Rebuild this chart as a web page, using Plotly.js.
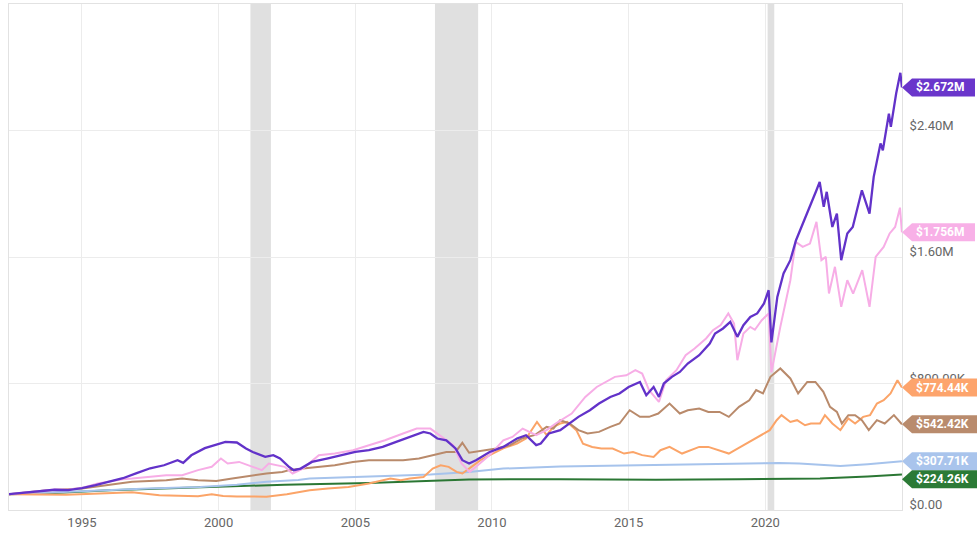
<!DOCTYPE html>
<html>
<head>
<meta charset="utf-8">
<script src="https://cdn.plot.ly/plotly-3.0.1.min.js"></script>
<style>
html,body{margin:0;padding:0;background:#fff;}
#chart{width:977px;height:533px;}
</style>
</head>
<body>
<div id="chart"></div>
<script>
// ---------------- DATA (values in thousands of dollars) ----------------
const purpleDates = ['1992-05-01','1993-01-01','1993-07-01','1994-01-01','1994-07-01','1995-01-01','1995-07-01','1996-01-01','1996-07-01','1997-01-01','1997-07-01','1998-01-01','1998-07-01','1998-09-15','1999-01-01','1999-07-01','2000-01-01','2000-04-01','2000-09-01','2001-01-01','2001-04-01','2001-09-15','2002-01-01','2002-04-01','2002-08-01','2002-10-01','2003-01-01','2003-06-01','2004-01-01','2004-07-01','2005-01-01','2005-07-01','2006-01-01','2006-07-01','2007-01-01','2007-07-01','2007-10-01','2008-01-01','2008-05-01','2008-09-01','2008-12-01','2009-03-01','2009-06-01','2009-12-01','2010-06-01','2010-12-01','2011-04-01','2011-08-15','2011-10-15','2012-02-01','2012-07-01','2012-11-01','2013-03-01','2013-08-01','2013-12-01','2014-05-01','2014-09-01','2015-01-01','2015-06-01','2015-08-25','2015-12-01','2016-02-10','2016-04-15','2016-08-01','2016-11-15','2017-03-01','2017-08-01','2017-12-20','2018-03-01','2018-06-15','2018-09-20','2018-12-24','2019-03-15','2019-06-15','2019-09-15','2019-12-15','2020-02-15','2020-03-23','2020-06-10','2020-09-01','2020-12-01','2021-02-15','2021-05-01','2021-08-20','2021-11-15','2021-12-28','2022-02-20','2022-04-01','2022-06-15','2022-08-15','2022-10-12','2023-01-01','2023-03-15','2023-07-15','2023-10-25','2023-12-20','2024-03-20','2024-04-20','2024-07-10','2024-08-05','2024-10-15','2024-12-10','2024-12-31'];
const purpleK = [100,110,118,128,126,138,157,178,201,233,264,283,315,298,346,391,420,431,427,389,367,336,347,326,272,252,262,304,326,347,367,378,399,431,462,494,484,452,441,389,315,294,315,367,399,452,473,410,420,484,505,547,589,631,673,715,737,778,810,726,778,715,800,842,873,926,979,1053,1116,1148,1190,1095,1169,1221,1243,1306,1390,1060,1348,1496,1580,1706,1790,1917,2022,2075,1917,2012,1790,1875,1580,1749,1790,2022,1875,2107,2318,2275,2507,2423,2634,2765,2672];

const pinkDates = ['1992-05-01','1993-01-01','1993-07-01','1994-01-01','1994-07-01','1995-01-01','1995-08-01','1996-01-01','1996-07-01','1996-11-01','1997-07-01','1998-02-01','1998-09-01','1999-04-01','1999-10-01','2000-02-01','2000-05-01','2000-10-01','2001-04-01','2001-08-01','2001-11-01','2002-02-01','2002-06-01','2002-09-15','2003-02-01','2003-09-01','2004-04-01','2004-12-01','2005-07-01','2006-02-01','2006-10-01','2007-04-01','2007-10-01','2008-03-01','2008-08-01','2008-11-20','2009-03-09','2009-06-01','2009-12-01','2010-06-01','2010-10-01','2011-02-15','2011-08-15','2012-01-01','2012-05-01','2012-12-01','2013-06-01','2013-11-01','2014-03-01','2014-07-01','2014-12-01','2015-04-01','2015-07-01','2015-10-01','2016-02-10','2016-05-15','2016-10-01','2017-02-01','2017-06-01','2017-11-01','2018-02-01','2018-05-15','2018-08-25','2018-11-10','2018-12-24','2019-03-15','2019-06-15','2019-08-15','2019-11-15','2020-02-15','2020-03-23','2020-06-10','2020-07-20','2020-12-01','2021-02-10','2021-05-15','2021-08-20','2021-11-15','2022-01-20','2022-03-20','2022-05-01','2022-07-20','2022-10-12','2023-01-01','2023-03-20','2023-07-20','2023-10-25','2024-01-15','2024-05-01','2024-07-20','2024-10-01','2024-12-05','2024-12-31'];
const pinkK = [100,112,120,130,128,140,168,180,195,199,209,220,220,252,273,326,294,304,273,252,294,283,273,231,262,347,357,378,410,441,484,515,515,462,410,294,241,273,347,441,462,515,473,505,547,610,715,778,810,842,852,884,863,758,684,821,884,979,1021,1085,1137,1169,1243,1179,947,1116,1158,1140,1200,1243,870,1074,1158,1453,1696,1664,1685,1822,1580,1601,1369,1538,1285,1453,1369,1517,1285,1601,1664,1749,1790,1912,1756];

const brownDates = ['1992-05-01','1993-10-01','1995-01-01','1995-08-01','1996-11-01','1998-02-01','1998-09-01','1999-04-01','1999-12-01','2000-07-01','2001-04-01','2001-10-01','2002-05-01','2002-08-01','2003-02-01','2003-09-01','2004-04-01','2004-12-01','2005-07-01','2006-02-01','2006-10-01','2007-05-01','2007-11-01','2008-05-01','2008-09-01','2008-12-01','2009-03-01','2009-09-01','2010-03-01','2010-09-01','2011-02-01','2011-08-01','2012-01-01','2012-04-01','2012-07-01','2012-11-01','2013-03-01','2013-07-01','2013-12-01','2014-05-01','2014-09-01','2015-01-15','2015-06-01','2015-10-01','2016-02-01','2016-07-01','2016-11-15','2017-03-01','2017-08-01','2017-12-01','2018-05-01','2018-09-01','2019-01-15','2019-06-01','2019-09-01','2019-12-01','2020-03-10','2020-07-20','2020-12-01','2021-03-15','2021-07-15','2021-11-01','2022-02-15','2022-05-15','2022-08-15','2022-10-20','2023-01-15','2023-04-15','2023-07-15','2023-10-15','2024-02-01','2024-05-15','2024-09-15','2024-12-31'];
const brownK = [100,125,136,150,178,188,199,188,184,199,220,231,241,252,262,273,283,304,315,315,315,326,347,367,367,425,362,378,389,410,452,475,526,515,568,547,505,484,494,526,547,631,589,589,610,673,610,631,642,620,620,589,652,694,758,737,842,895,832,737,810,810,747,652,620,547,600,600,568,505,568,547,600,542.42];

const orangeDates = ['1992-05-01','1993-06-01','1994-06-01','1995-06-01','1996-06-01','1996-11-01','1997-11-01','1998-09-01','1999-04-01','1999-10-01','2000-03-01','2000-09-01','2001-04-01','2001-10-01','2002-07-01','2003-05-01','2004-01-01','2004-10-01','2005-07-01','2006-01-01','2006-04-15','2006-09-01','2007-01-01','2007-07-01','2007-11-01','2008-02-15','2008-06-01','2008-09-15','2008-12-01','2009-03-01','2009-08-01','2009-12-01','2010-06-01','2010-12-01','2011-04-01','2011-08-25','2012-01-01','2012-04-01','2012-07-01','2012-10-01','2013-02-01','2013-05-01','2013-09-01','2014-01-01','2014-06-01','2014-11-01','2015-03-01','2015-07-01','2015-12-01','2016-03-01','2016-07-01','2016-12-15','2017-04-01','2017-08-01','2017-12-01','2018-05-01','2018-09-01','2019-01-01','2019-06-01','2019-10-01','2020-03-01','2020-06-01','2020-08-05','2020-12-01','2021-03-01','2021-06-15','2021-09-01','2022-01-01','2022-03-08','2022-06-15','2022-10-01','2023-01-15','2023-04-15','2023-08-01','2023-11-01','2024-02-01','2024-05-01','2024-08-01','2024-11-01','2024-12-31'];
const orangeK = [100,97,96,102,108,112,94,88,87,100,88,86,83,84,100,125,136,146,168,188,199,188,199,209,262,283,273,241,231,262,315,347,390,420,452,557,473,526,547,557,505,420,399,389,389,357,367,347,336,378,399,357,378,399,399,378,357,389,431,462,505,568,600,557,568,536,547,547,600,547,505,579,547,589,600,673,694,737,821,774.44];

const blueDates = ['1992-05-01','1994-01-01','1995-08-01','1997-06-01','1999-05-01','2000-09-01','2001-10-01','2002-12-01','2003-05-01','2005-07-01','2007-10-01','2009-03-01','2010-06-01','2012-07-01','2015-06-01','2017-06-01','2019-01-01','2020-07-01','2021-04-01','2022-04-01','2022-10-01','2023-10-01','2024-12-31'];
const blueK = [100,112,125,136,146,160,178,190,199,209,224,241,262,275,283,289,294,298,294,283,279,290,307.71];

const greenDates = ['1992-05-01','1994-01-01','1996-01-01','1998-01-01','2000-01-01','2001-06-01','2002-06-01','2005-07-01','2007-06-01','2009-03-01','2012-07-01','2016-01-01','2019-01-01','2020-07-01','2022-01-01','2023-10-01','2024-12-31'];
const greenK = [100,108,125,136,150,157,160,171,184,193,195,192,195,197,199,212,224.26];

// recession periods
const recessionStarts = ['2001-03-01','2007-12-01','2020-02-01'];
const recessionEnds   = ['2001-11-30','2009-06-30','2020-04-30'];

// axis ticks
const xTickVals = ['1995-01-01','2000-01-01','2005-01-01','2010-01-01','2015-01-01','2020-01-01'];
const xTickText = ['1995','2000','2005','2010','2015','2020'];
const yTickVals = [0, 800000, 1600000, 2400000];
const yTickText = ['$0.00', '$800.00K', '$1.60M', '$2.40M'];
const yMax = 3200000;

// ---------------- STYLE ----------------
const series = [
  {name:'Series 6', x:greenDates,  k:greenK,  color:'#2b7734', tag:'#2b7a36', w:2},
  {name:'Series 5', x:blueDates,   k:blueK,   color:'#a6c3ec', tag:'#a9c4ec', w:2},
  {name:'Series 4', x:orangeDates, k:orangeK, color:'#fba468', tag:'#fda46c', w:2},
  {name:'Series 3', x:brownDates,  k:brownK,  color:'#b98a6b', tag:'#b98b6d', w:2},
  {name:'Series 2', x:pinkDates,   k:pinkK,   color:'#f7ade6', tag:'#f8b0e7', w:2},
  {name:'Series 1', x:purpleDates, k:purpleK, color:'#6232c9', tag:'#6a36cb', w:2.3}
];

const traces = series.map(s => ({
  type:'scatter', mode:'lines', name:s.name,
  x:s.x, y:s.k.map(v => v*1000),
  line:{color:s.color, width:s.w, shape:'linear'},
  hoverinfo:'skip', showlegend:false
}));

function fmtTag(v){
  if (v >= 1e6) return '$' + (v/1e6).toFixed(3) + 'M';
  return '$' + (v/1e3).toFixed(2) + 'K';
}

const W = 977, H = 533;
const margin = {l:9, r:75, t:4, b:23, pad:0};
const plotH = H - margin.t - margin.b;

const shapes = recessionStarts.map((s,i) => ({
  type:'rect', xref:'x', yref:'paper', x0:s, x1:recessionEnds[i], y0:0, y1:1,
  fillcolor:'#e0e0e0', line:{width:0}, layer:'below'
}));

// value tags at the right edge, pushed apart so they do not overlap
const tagH = 18;
const tags = series.map(s => {
  const v = s.k[s.k.length-1]*1000;
  return {v, color:s.tag, text:fmtTag(v)};
}).sort((a,b) => b.v - a.v);
let prev = -Infinity;
const annotations = [];
tags.forEach(t => {
  const p = (1 - t.v / yMax) * plotH;
  const q = Math.max(p, prev + tagH);
  const dy = q - p;
  prev = q;
  const bw = t.text.length >= 8 ? 77 : 73;
  const h = tagH/2;
  shapes.push({
    type:'path', layer:'above',
    xref:'paper', xsizemode:'pixel', xanchor:1,
    yref:'y', ysizemode:'pixel', yanchor:t.v,
    path:`M0,${-dy} L10,${-dy+h} L${bw},${-dy+h} L${bw},${-dy-h} L10,${-dy-h} Z`,
    fillcolor:t.color, line:{width:0}
  });
  annotations.push({
    xref:'paper', x:1, xanchor:'left', xshift:12,
    yref:'y', y:t.v, yanchor:'middle', yshift:-dy,
    text:'<b>'+t.text+'</b>', showarrow:false,
    font:{family:'Roboto', size:12, color:'#ffffff'}
  });
});

const layout = {
  width:W, height:H, margin,
  paper_bgcolor:'#ffffff', plot_bgcolor:'#ffffff',
  font:{family:'Roboto', size:13, color:'#666666'},
  showlegend:false,
  xaxis:{
    type:'date', range:['1992-05-01','2025-01-01'],
    tickmode:'array', tickvals:xTickVals, ticktext:xTickText,
    showgrid:true, gridcolor:'#ececec', gridwidth:1,
    showline:true, linecolor:'#e2e2e2', linewidth:1, mirror:true,
    ticks:'', zeroline:false,
    tickfont:{family:'Roboto', size:13, color:'#666666'}
  },
  yaxis:{
    side:'right', range:[0, yMax],
    tickmode:'array', tickvals:yTickVals, ticktext:yTickText,
    ticklabelposition:'outside top',
    ticklabelstandoff:4, ticklabelshift:4,
    showgrid:true, gridcolor:'#ececec', gridwidth:1,
    showline:true, linecolor:'#e2e2e2', linewidth:1, mirror:true,
    ticks:'', zeroline:false,
    tickfont:{family:'Roboto', size:13, color:'#666666'}
  },
  shapes, annotations
};

Plotly.newPlot('chart', traces, layout, {staticPlot:true, displayModeBar:false});
</script>
</body>
</html>
